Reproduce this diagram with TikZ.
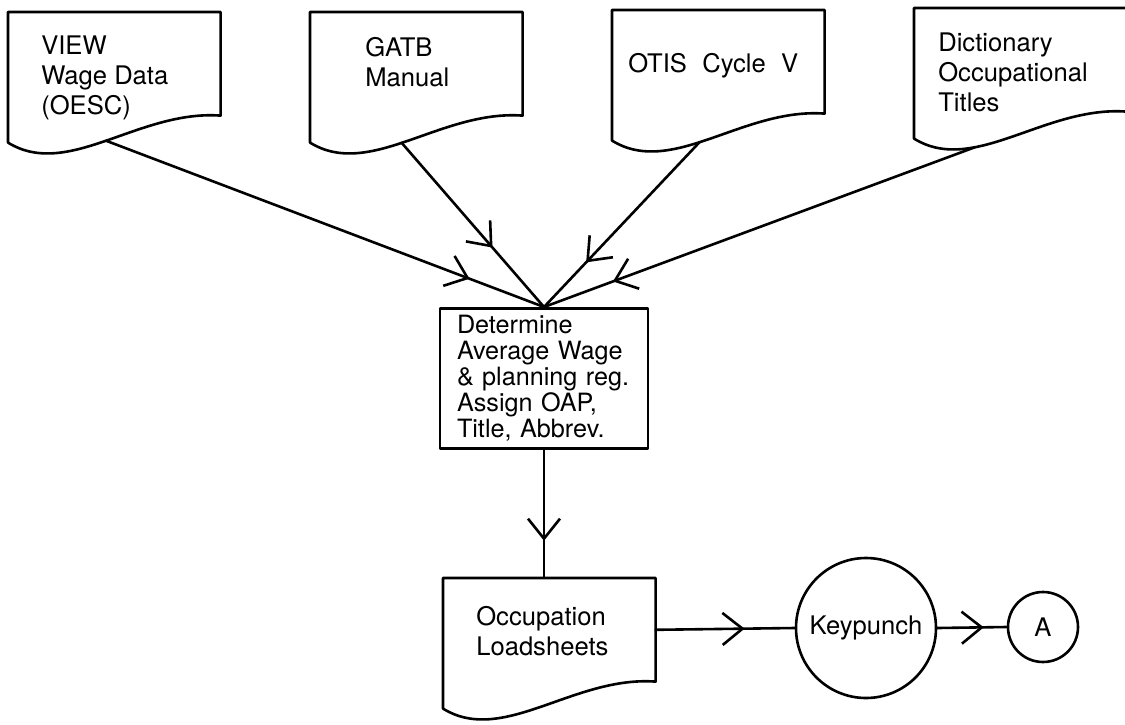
\documentclass[tikz,border=0pt]{standalone}
\usepackage{fontspec}
\setmainfont{TeX Gyre Heros}
\usetikzlibrary{arrows.meta,calc,decorations.markings}
\tikzset{flowtip/.tip={Straight Barb[length=10pt,width=16pt]}}
\newcommand{\docout}[2]{%
  \coordinate (#1-bl) at ($(#1.south west)+(0,27)$);
  \draw (#1-bl) -- (#1.north west) -- (#1.north east) -- (#1.south east)
    .. controls +(-82,-6) and +(60,37) .. (#1-bl) coordinate[pos=#2] (#1-tail);
}

\begin{document}
\begin{tikzpicture}[x=0.5pt,y=-0.5pt,line cap=round,line join=round,line width=1.3pt,
    font=\fontsize{12.8}{15}\selectfont,
    docbox/.style={rectangle,anchor=north west,inner sep=0pt,minimum width=105pt,minimum height=50.5pt},
    doctext/.style={anchor=north west,inner sep=0pt,align=left},
    procbox/.style={draw,anchor=north,minimum width=104pt,minimum height=70pt,text width=87pt,
      inner xsep=8.5pt,inner ysep=3pt,align=left,font=\fontsize{12.6}{13}\selectfont},
    midarr/.style={postaction={decorate},decoration={markings,mark=at position #1 with {\arrow{flowtip}}}}]
  \useasboundingbox (0,0) rectangle (1125,724);

  \node[docbox] (view) at (8,12) {};
  \node[docbox] (gatb) at (310,12) {};
  \node[docbox] (otis) at (612,10) {};
  \node[docbox] (dict) at (914,8) {};
  \node[docbox] (occ) at (443,578) {};
  \docout{view}{0.5}
  \docout{gatb}{0.53}
  \docout{otis}{0.55}
  \docout{dict}{0.68}
  \docout{occ}{0.5}

  \node[doctext] (view-t) at ($(view.north west)+(32,23)$) {VIEW\\Wage Data\\(OESC)};
  \node[doctext] (gatb-t) at ($(gatb.north west)+(54,24)$) {GATB\\Manual};
  \node[doctext] (otis-t) at ($(otis.north west)+(15,42)$) {OTIS\hspace{0.6em}Cycle\hspace{0.6em}V};
  \node[doctext] (dict-t) at ($(dict.north west)+(23,24)$) {Dictionary\\Occupational\\Titles};
  \node[doctext] (occ-t) at ($(occ.north west)+(32,27)$) {Occupation\\Loadsheets};

  \node[procbox] (det) at (544,307) {Determine\\Average Wage\\\& planning reg.\\Assign OAP,\\Title, Abbrev.};
  \node[circle,draw,minimum size=70pt,inner sep=0pt] (key) at (866,628) {Keypunch};
  \node[circle,draw,minimum size=35pt,inner sep=0pt] (conA) at (1043,627) {A};

  \draw[midarr=0.83] (view-tail) -- (det.north);
  \draw[midarr=0.64] (gatb-tail) -- (det.north);
  \draw[midarr=0.73] (otis-tail) -- (det.north);
  \draw[midarr=0.84] (dict-tail) -- (det.north);
  \draw[midarr=0.71] (det.south) -- (det.south |- occ.north);
  \draw[midarr=0.64] (occ.east) -- (key.west);
  \draw[midarr=0.67] (key.east) -- (conA.west);
\end{tikzpicture}
\end{document}
